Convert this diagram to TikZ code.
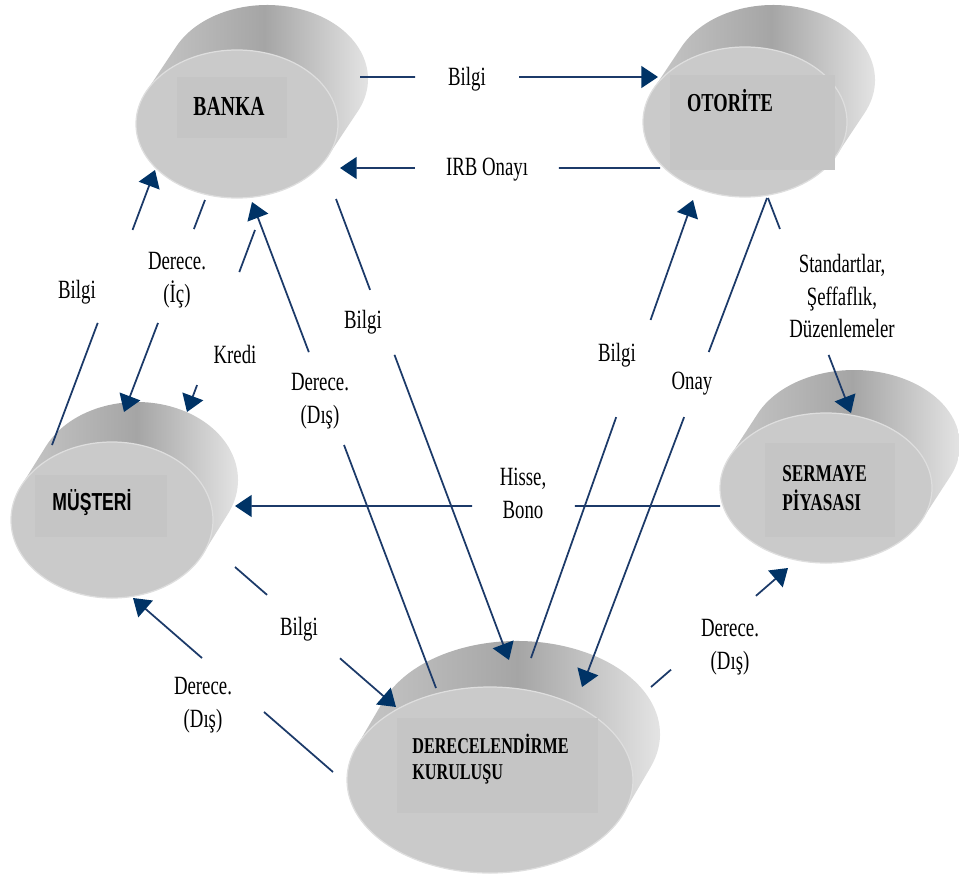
\documentclass[tikz,border=0pt]{standalone}
\usepackage{fontspec}
\setmainfont{Liberation Serif}
\newfontfamily\sansbold{Liberation Sans}
\usetikzlibrary{arrows.meta,calc}
\definecolor{lnc}{RGB}{28,58,105}
\definecolor{headc}{RGB}{0,51,102}
\definecolor{frontc}{RGB}{202,202,202}
\definecolor{rectc}{RGB}{197,197,197}
\definecolor{sideL}{RGB}{198,198,198}
\definecolor{sideM}{RGB}{165,165,165}
\definecolor{sideR}{RGB}{236,236,236}
\definecolor{rimc}{RGB}{222,222,222}
\newcommand\drawcyl[6]{%
  \pgfmathsetmacro\ct{atan2(#4*#5,-#3*#6)}%
  \pgfmathsetmacro\px{#3*cos(\ct)}%
  \pgfmathsetmacro\py{#4*sin(\ct)}%
  \shade[left color=sideL, right color=sideR, middle color=sideM]
    ({#1+\px},{#2+\py}) -- ({#1+\px+#5},{#2+\py+#6})
    arc[start angle=\ct, end angle=\ct-180, x radius=#3, y radius=#4]
    -- ({#1-\px},{#2-\py}) -- cycle;
  \fill[frontc, draw=rimc, line width=0.7pt] (#1,#2) ellipse [x radius=#3, y radius=#4];
}
\newcommand\myconn[4]{%
  \draw[ln] (#1) -- ($(#1)!#3!(#2)$);
  \draw[arr] ($(#1)!#4!(#2)$) -- (#2);
}
\tikzset{
  ln/.style={draw=lnc, line width=1pt},
  arr/.style={ln, -{Triangle[length=9.5pt,width=12.5pt,color=headc]}},
  lbl/.style={font=\fontsize{10.7}{13.4}\selectfont, align=center, yscale=1.4, inner sep=0pt},
  cyltxt/.style={font=\bfseries\fontsize{10.5}{11.2}\selectfont, align=left, yscale=1.4, inner sep=0pt},
}
\begin{document}
\begin{tikzpicture}[x=0.02cm, y=-0.02cm]
\useasboundingbox (0,0) rectangle (959,882);

% cylinders
\drawcyl{237}{124}{101}{74}{30}{-45}
\fill[rectc] (177,77) rectangle (287,138);
\node[cyltxt, anchor=base, font=\bfseries\fontsize{11.2}{12}\selectfont] (banka) at (229,115) {BANKA};

\drawcyl{745}{122}{102}{75}{28}{-42}
\fill[rectc] (670,75) rectangle (835,170);
\node[cyltxt, anchor=base] (otorite) at (730,112) {OTORİTE};

\drawcyl{112}{520}{101}{78}{25}{-40}
\fill[rectc] (35,475) rectangle (167,537);
\node[cyltxt, anchor=base, font=\sansbold\bfseries\fontsize{10}{11}\selectfont] (musteri) at (92,510) {MÜŞTERİ};

\drawcyl{826}{488}{106}{75}{28}{-43}
\fill[rectc] (765,443) rectangle (895,537);
\node[cyltxt, anchor=west, font=\bfseries\fontsize{9.8}{11.7}\selectfont] (sermaye) at (782,488) {SERMAYE\\PİYASASI};

\drawcyl{490}{780}{143}{93}{27}{-46}
\fill[rectc] (397,718) rectangle (598,813);
\node[cyltxt, anchor=west, font=\bfseries\fontsize{9.2}{10.8}\selectfont] (derece) at (412,759) {DERECELENDİRME\\KURULUŞU};

% connector end points
\coordinate (a1s) at (360,77);  \coordinate (a1e) at (658,77);
\coordinate (a2s) at (660,168); \coordinate (a2e) at (340,168);
\coordinate (a3s) at (52,445);  \coordinate (a3e) at (155,170);
\coordinate (a4s) at (205,200); \coordinate (a4e) at (124,412);
\coordinate (a5s) at (255,230); \coordinate (a5e) at (187,412);
\coordinate (a6s) at (436,688); \coordinate (a6e) at (252,202);
\coordinate (a7s) at (336,199); \coordinate (a7e) at (509,660);
\coordinate (a8s) at (531,658); \coordinate (a8e) at (693,200);
\coordinate (a9s) at (767,198); \coordinate (a9e) at (582,687);
\coordinate (a10s) at (768,198); \coordinate (a10e) at (851,413);
\coordinate (a11s) at (720,506); \coordinate (a11e) at (235,506);
\coordinate (a12s) at (235,567); \coordinate (a12e) at (396,707);
\coordinate (a13s) at (333,772); \coordinate (a13e) at (133,598);
\coordinate (a14s) at (651,687); \coordinate (a14e) at (788,568);

\myconn{a1s}{a1e}{0.185}{0.534}
\myconn{a2s}{a2e}{0.316}{0.766}
\myconn{a3s}{a3e}{0.444}{0.782}
\myconn{a4s}{a4e}{0.137}{0.58}
\myconn{a5s}{a5e}{0.231}{0.852}
\myconn{a6s}{a6e}{0.5}{0.691}
\myconn{a7s}{a7e}{0.197}{0.338}
\myconn{a8s}{a8e}{0.526}{0.738}
\myconn{a9s}{a9e}{0.315}{0.448}
\myconn{a10s}{a10e}{0.144}{0.73}
\myconn{a11s}{a11e}{0.299}{0.511}
\myconn{a12s}{a12e}{0.199}{0.652}
\myconn{a13s}{a13e}{0.345}{0.655}
\myconn{a14s}{a14e}{0.146}{0.766}

% labels
\node[lbl] (l1) at (467,79) {Bilgi};
\node[lbl] (l2) at (487,170) {IRB Onayı};
\node[lbl] (l3) at (77,292) {Bilgi};
\node[lbl] (l4) at (177,280) {Derece.\\(İç)};
\node[lbl] (l5) at (235,354) {Kredi};
\node[lbl] (l6) at (320,401) {Derece.\\(Dış)};
\node[lbl] (l7) at (363,322) {Bilgi};
\node[lbl] (l8) at (617,355) {Bilgi};
\node[lbl] (l9) at (692,384) {Onay};
\node[lbl] (l10) at (842,296) {Standartlar,\\Şeffaflık,\\Düzenlemeler};
\node[lbl] (l11) at (523,493) {Hisse,\\Bono};
\node[lbl] (l12) at (299,629) {Bilgi};
\node[lbl] (l13) at (203,705) {Derece.\\(Dış)};
\node[lbl] (l14) at (730,647) {Derece.\\(Dış)};
\end{tikzpicture}
\end{document}
